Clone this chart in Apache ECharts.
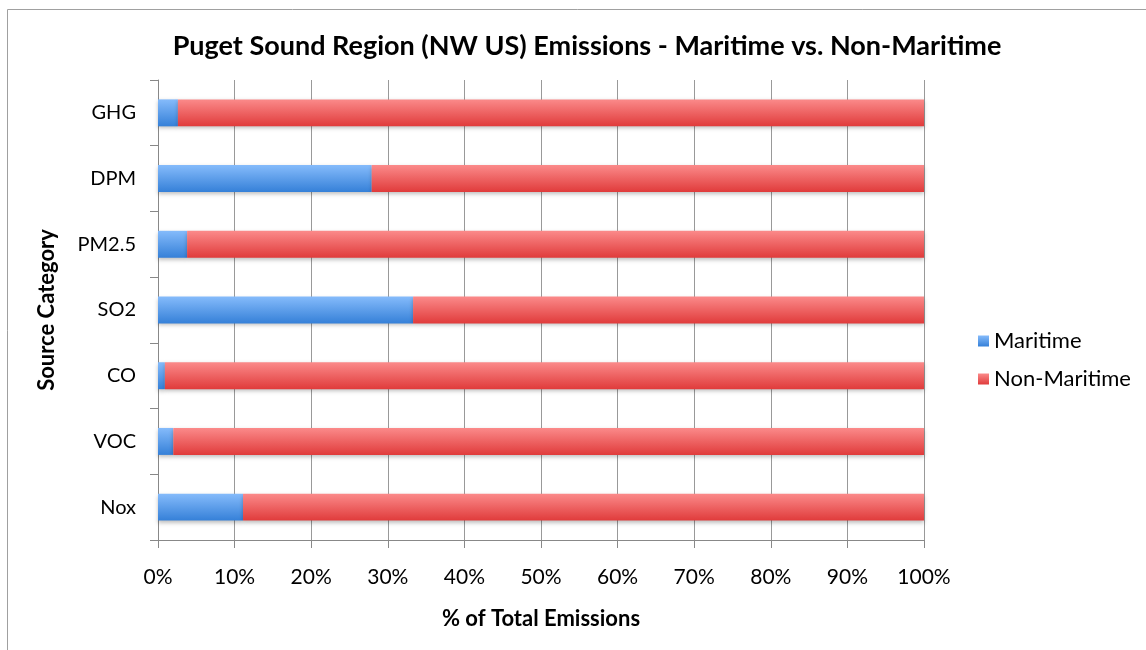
<!DOCTYPE html>
<html>
<head>
<meta charset="utf-8">
<script src="https://cdn.jsdelivr.net/npm/echarts@6/dist/echarts.min.js"></script>
<style>
html,body{margin:0;padding:0;background:#fff;}
#chart{width:1146px;height:650px;}
</style>
</head>
<body>
<div id="chart"></div>
<script>
var categories = ['Nox', 'VOC', 'CO', 'SO2', 'PM2.5', 'DPM', 'GHG'];
var maritime = [11.1, 2.0, 0.9, 33.3, 3.8, 27.9, 2.6];
var nonMaritime = [88.9, 98.0, 99.1, 66.7, 96.2, 72.1, 97.4];
var xTicks = [0, 10, 20, 30, 40, 50, 60, 70, 80, 90, 100];

var FONT = 'Lato';
var chart = echarts.init(document.getElementById('chart'));
function grad(top, bottom) {
  return new echarts.graphic.LinearGradient(0, 0, 0, 1, [
    {offset: 0, color: top}, {offset: 1, color: bottom}
  ]);
}
chart.setOption({
  animation: false,
  textStyle: {fontFamily: FONT},
  graphic: [{
    type: 'rect', shape: {x: 7.5, y: 9.5, width: 1150, height: 660},
    style: {fill: 'none', stroke: '#a0a0a0', lineWidth: 1}, z: -1
  }],
  title: {
    text: 'Puget Sound Region (NW US) Emissions - Maritime vs. Non-Maritime',
    left: 582, top: 28, textAlign: 'center',
    textStyle: {fontFamily: FONT, fontWeight: 'bold', fontSize: 27, color: '#000'}
  },
  legend: {
    orient: 'vertical', left: 973, top: 325, itemWidth: 11, itemHeight: 11, itemGap: 16,
    icon: 'rect',
    textStyle: {fontFamily: FONT, fontSize: 22, color: '#000'},
    data: ['Maritime', 'Non-Maritime']
  },
  grid: {left: 158, right: 222, top: 80, bottom: 110},
  xAxis: {
    type: 'value', min: 0, max: 100, interval: 10,
    name: '% of Total Emissions', nameLocation: 'middle', nameGap: 68,
    nameTextStyle: {fontFamily: FONT, fontWeight: 'bold', fontSize: 22, color: '#000'},
    axisLine: {show: true, lineStyle: {color: '#888'}},
    axisTick: {show: true, length: 8, lineStyle: {color: '#888'}},
    axisLabel: {formatter: function(v){return v + '%';}, fontFamily: FONT, fontSize: 21, color: '#000', margin: 27},
    splitLine: {show: true, lineStyle: {color: '#999', width: 1}}
  },
  yAxis: {
    type: 'category', data: categories,
    name: 'Source Category', nameLocation: 'middle', nameGap: 100, nameRotate: 90,
    nameTextStyle: {fontFamily: FONT, fontWeight: 'bold', fontSize: 22, color: '#000'},
    axisLine: {show: true, lineStyle: {color: '#888'}},
    axisTick: {show: true, length: 8, lineStyle: {color: '#888'}},
    axisLabel: {fontFamily: FONT, fontSize: 20, color: '#000', margin: 22}
  },
  series: [{
    name: 'Maritime', type: 'bar', stack: 'total', data: maritime, barWidth: '41%',
    itemStyle: {color: grad('#85bbfb', '#3580d8'), shadowColor: 'rgba(0,0,0,0.25)', shadowBlur: 4, shadowOffsetY: 2}
  }, {
    name: 'Non-Maritime', type: 'bar', stack: 'total', data: nonMaritime, barWidth: '41%',
    itemStyle: {color: grad('#fb8a8a', '#e03b3b'), shadowColor: 'rgba(0,0,0,0.25)', shadowBlur: 4, shadowOffsetY: 2}
  }]
});
</script>
</body>
</html>
